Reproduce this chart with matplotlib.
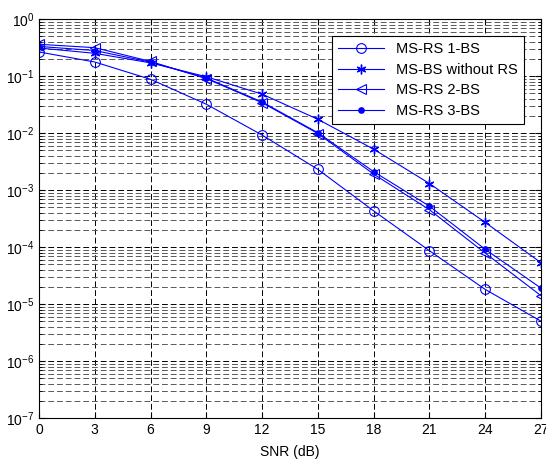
import numpy as np
import matplotlib
matplotlib.use("Agg")
import matplotlib.pyplot as plt
from matplotlib.ticker import LogLocator, NullFormatter

plt.rcParams['font.family'] = ['Liberation Sans', 'DejaVu Sans']

# data
snr = [0, 3, 6, 9, 12, 15, 18, 21, 24, 27]
ms_rs_1bs = [0.264, 0.176, 0.0875, 0.032, 0.0092, 0.0023, 4.3e-4, 8.6e-5, 1.8e-5, 5.0e-6]
ms_bs_no_rs = [0.31, 0.25, 0.17, 0.097, 0.048, 0.0174, 0.0052, 0.0013, 2.7e-4, 5.3e-5]
ms_rs_2bs = [0.36, 0.314, 0.18, 0.09, 0.034, 0.0098, 0.0019, 4.5e-4, 7.8e-5, 1.4e-5]
ms_rs_3bs = [0.33, 0.28, 0.175, 0.092, 0.035, 0.0101, 0.0021, 5.2e-4, 9.1e-5, 1.9e-5]
labels = ['MS-RS 1-BS', 'MS-BS without RS', 'MS-RS 2-BS', 'MS-RS 3-BS']

fig = plt.figure(figsize=(5.46, 4.59), dpi=100)
ax = fig.add_axes([39/546, 1 - 418/459, 502/546, 399/459])

blue = (0, 0, 1)
asterisk = (6, 2, 0)
ax.semilogy(snr, ms_rs_1bs, linestyle='-', marker='o', color=blue, mfc='none', ms=7, lw=0.8, mew=0.8, label=labels[0])
ax.semilogy(snr, ms_bs_no_rs, linestyle='-', marker=asterisk, color=blue, ms=7, lw=0.8, mew=1.0, label=labels[1])
ax.semilogy(snr, ms_rs_2bs, linestyle='-', marker='<', color=blue, mfc='none', ms=7, lw=0.8, mew=0.8, label=labels[2])
ax.semilogy(snr, ms_rs_3bs, linestyle='-', marker='.', color=blue, ms=8, lw=0.8, mew=0.8, label=labels[3])

ax.set_xlim(0, 27)
ax.set_ylim(1e-7, 1)
ax.set_xticks(snr)
ax.yaxis.set_major_locator(LogLocator(base=10, numticks=10))
ax.yaxis.set_minor_locator(LogLocator(base=10, subs=np.arange(2, 10), numticks=20))
ax.yaxis.set_minor_formatter(NullFormatter())

dash = (0, (6, 3))
ax.grid(True, which='major', color='black', linestyle=dash, lw=0.7)
ax.grid(True, which='minor', axis='y', color='0.35', linestyle=dash, lw=0.7)

ax.tick_params(which='both', direction='in', top=True, right=True, labelsize=10)
ax.tick_params(which='major', length=4)
ax.tick_params(which='minor', length=2)
for s in ax.spines.values():
    s.set_linewidth(0.8)

ax.set_xlabel('SNR (dB)', fontsize=10, labelpad=6)

leg = ax.legend(loc='upper right', fontsize=10.5, fancybox=False, framealpha=1,
                edgecolor='black', borderpad=0.4, handlelength=3.2,
                labelspacing=0.45, bbox_to_anchor=(0.98, 0.975))
leg.get_frame().set_linewidth(0.8)

fig.savefig('out.png', dpi=100)
